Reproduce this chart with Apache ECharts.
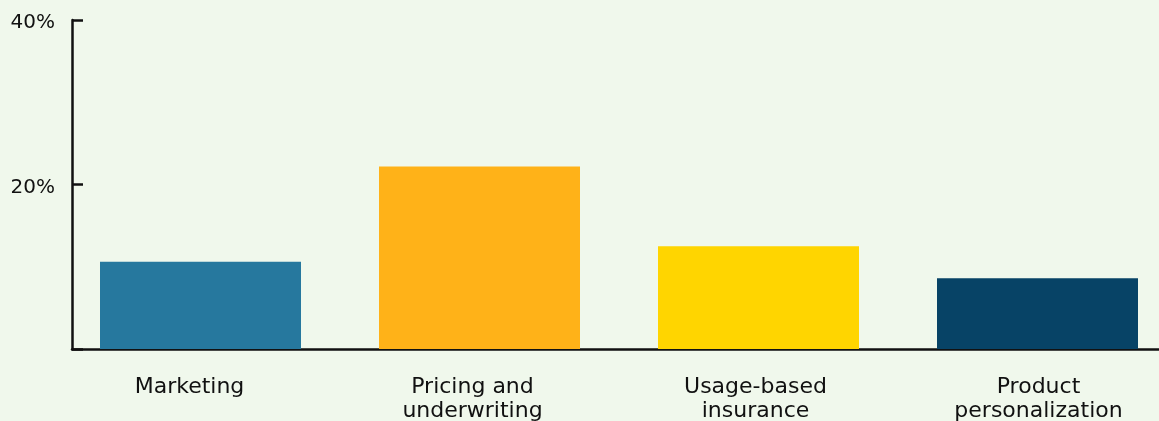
<!DOCTYPE html>
<html>
<head>
<meta charset="utf-8">
<script src="https://cdn.jsdelivr.net/npm/echarts@6/dist/echarts.min.js"></script>
<style>
html,body{margin:0;padding:0;background:#f0f8ec;}
#chart{width:1159px;height:421px;}
</style>
</head>
<body>
<div id="chart"></div>
<script>
var categories = ['Marketing', 'Pricing and\nunderwriting', 'Usage-based\ninsurance', 'Product\npersonalization'];
var values = [10.6, 22.2, 12.5, 8.6];
var barColors = ['#26789e', '#ffb218', '#ffd500', '#074366'];
var yTicks = [0, 20, 40];

var FONT = 'DejaVu Sans';
var chart = echarts.init(document.getElementById('chart'), null, {renderer: 'canvas'});
var yMin = yTicks[0], yMax = yTicks[yTicks.length - 1], yStep = yTicks[1] - yTicks[0];

chart.setOption({
  backgroundColor: '#f0f8ec',
  animation: false,
  grid: [
    {left: 72, right: 0, top: 20, height: 329, outerBoundsMode: 'none', containLabel: false},
    {left: 61, width: 1116, top: 20, height: 329, outerBoundsMode: 'none', containLabel: false},
    {left: 48, width: 1132, top: 20, height: 329, outerBoundsMode: 'none', containLabel: false}
  ],
  xAxis: [
    {gridIndex: 0, type: 'category', data: categories,
     axisLine: {show: true, lineStyle: {color: '#111', width: 2.5}},
     axisTick: {show: false}, axisLabel: {show: false}, splitLine: {show: false}},
    {gridIndex: 1, type: 'category', data: categories, show: false},
    {gridIndex: 2, type: 'category', data: categories,
     axisLine: {show: false}, axisTick: {show: false}, splitLine: {show: false},
     axisLabel: {show: true, interval: 0, margin: 26, color: '#111',
       fontFamily: FONT, fontSize: 22, lineHeight: 24}}
  ],
  yAxis: [
    {gridIndex: 0, type: 'value', min: yMin, max: yMax, interval: yStep,
     axisLine: {show: true, lineStyle: {color: '#111', width: 2.5}},
     axisTick: {show: true, inside: true, length: 11, lineStyle: {color: '#111', width: 2.5}},
     splitLine: {show: false},
     axisLabel: {show: true, margin: 17, color: '#111', fontFamily: FONT, fontSize: 20,
       verticalAlign: 'top', lineHeight: 6,
       formatter: function (v) { return v === 0 ? '' : v + '%'; }}},
    {gridIndex: 1, type: 'value', min: yMin, max: yMax, interval: yStep, show: false},
    {gridIndex: 2, type: 'value', min: yMin, max: yMax, interval: yStep, show: false}
  ],
  series: [{
    type: 'bar',
    xAxisIndex: 1, yAxisIndex: 1,
    barWidth: 201,
    z: 1,
    data: values.map(function (v, i) { return {value: v, itemStyle: {color: barColors[i]}}; })
  }]
});
</script>
</body>
</html>
